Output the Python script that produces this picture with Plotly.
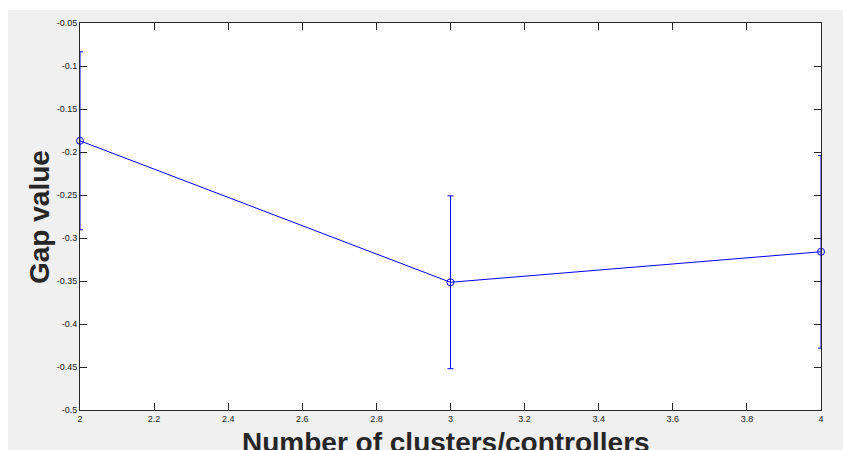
import plotly.graph_objects as go

clusters = [2, 3, 4]
gap_values = [-0.187, -0.3515, -0.316]
gap_errors = [0.1035, 0.1005, 0.112]

x_ticks = [2, 2.2, 2.4, 2.6, 2.8, 3, 3.2, 3.4, 3.6, 3.8, 4]
x_tick_labels = ["2", "2.2", "2.4", "2.6", "2.8", "3", "3.2", "3.4", "3.6", "3.8", "4"]
y_ticks = [-0.5, -0.45, -0.4, -0.35, -0.3, -0.25, -0.2, -0.15, -0.1, -0.05]
y_tick_labels = ["-0.5", "-0.45", "-0.4", "-0.35", "-0.3", "-0.25", "-0.2", "-0.15", "-0.1", "-0.05"]

W, H = 843, 450
L, R, T, B = 80, 22, 23, 40
pw, ph = W - L - R, H - T - B

def px_x(p):
    return (p - L) / pw

def px_y(p):
    return (H - B - p) / ph

fig = go.Figure()
fig.add_trace(go.Scatter(
    x=clusters, y=gap_values,
    mode="lines+markers",
    line=dict(color="rgb(0,0,255)", width=1),
    marker=dict(symbol="circle-open", size=7, color="rgb(0,0,255)", line=dict(width=1)),
    error_y=dict(type="data", array=gap_errors, visible=True, color="rgb(0,0,255)", thickness=1, width=3),
    cliponaxis=False,
    showlegend=False,
))

axis_common = dict(
    showgrid=False, zeroline=False,
    showline=True, linecolor="#262626", linewidth=1,
    mirror="ticks", ticks="inside", ticklen=7, tickwidth=1, tickcolor="#262626",
    tickfont=dict(family="Liberation Sans, Arial, sans-serif", size=9, color="#1a1a1a"),
)

fig.update_xaxes(range=[2, 4], tickvals=x_ticks, ticktext=x_tick_labels, **axis_common)
fig.update_yaxes(range=[-0.5, -0.05], tickvals=y_ticks, ticktext=y_tick_labels, **axis_common)

fig.update_layout(
    width=W, height=H,
    margin=dict(l=L, r=R, t=T, b=B, pad=0),
    paper_bgcolor="white",
    plot_bgcolor="white",
    shapes=[
        dict(type="rect", xref="paper", yref="paper",
             x0=px_x(8), x1=px_x(W + 5), y0=px_y(H + 5), y1=px_y(10),
             fillcolor="#f0f0f0", line=dict(width=0), layer="below"),
        dict(type="rect", xref="paper", yref="paper",
             x0=0, x1=1, y0=0, y1=1,
             fillcolor="white", line=dict(width=0), layer="below"),
    ],
    annotations=[
        dict(text="<b>Number of clusters/controllers</b>", xref="paper", yref="paper",
             x=px_x(446), y=px_y(442), xanchor="center", yanchor="middle", showarrow=False,
             font=dict(family="Liberation Sans, Arial, sans-serif", size=28, color="#262626")),
        dict(text="<b>Gap value</b>", xref="paper", yref="paper",
             x=px_x(40), y=px_y(217), xanchor="center", yanchor="middle", showarrow=False,
             textangle=-90,
             font=dict(family="Liberation Sans, Arial, sans-serif", size=28, color="#262626")),
    ],
)

fig.write_html("out.html")
